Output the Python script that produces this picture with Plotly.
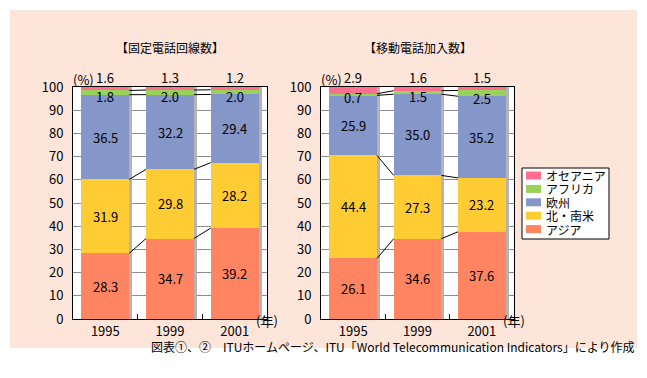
import plotly.graph_objects as go

years = ["1995", "1999", "2001"]
regions = ["アジア", "北・南米", "欧州", "アフリカ", "オセアニア"]
region_colors = ["#FF8562", "#FFCC33", "#8497C8", "#99D25A", "#FF6F8F"]

# 固定電話回線数 (%)
fixed_asia = [28.3, 34.7, 39.2]
fixed_america = [31.9, 29.8, 28.2]
fixed_europe = [36.5, 32.2, 29.4]
fixed_africa = [1.8, 2.0, 2.0]
fixed_oceania = [1.6, 1.3, 1.2]

# 移動電話加入数 (%)
mobile_asia = [26.1, 34.6, 37.6]
mobile_america = [44.4, 27.3, 23.2]
mobile_europe = [25.9, 35.0, 35.2]
mobile_africa = [0.7, 1.5, 2.5]
mobile_oceania = [2.9, 1.6, 1.5]

titles = ["【固定電話回線数】", "【移動電話加入数】"]
caption = "図表①、②　ITUホームページ、ITU「World Telecommunication Indicators」により作成"

FONT = "Noto Sans CJK JP, Noto Sans, sans-serif"
PEACH = "#FEE5DA"
SHADOW = "#B4B4B4"
BAR_W = 0.74
SHADOW_W = 0.046

W, H = 647, 378
def px(x):
    return x / W
def py(y):
    return 1 - y / H

panels = [
    dict(data=[fixed_asia, fixed_america, fixed_europe, fixed_africa, fixed_oceania],
         xdom=[px(73), px(267)], xa="x", ya="y"),
    dict(data=[mobile_asia, mobile_america, mobile_europe, mobile_africa, mobile_oceania],
         xdom=[px(321), px(514)], xa="x2", ya="y2"),
]
ydom = [py(319), py(87)]

fig = go.Figure()
annotations = []
shapes = []
xs = list(range(len(years)))
lab_font = dict(size=13, color="black", family=FONT)

for p_i, p in enumerate(panels):
    data = p["data"]
    cums = []
    run = [0.0] * len(years)
    for series in data:
        cums.append(list(run))
        run = [r + v for r, v in zip(run, series)]
    tops = [[b + v for b, v in zip(cums[k], data[k])] for k in range(len(data))]

    fig.add_trace(go.Bar(x=xs, y=[100] * len(xs), base=[0] * len(xs), width=SHADOW_W,
                         offset=BAR_W / 2, marker=dict(color=SHADOW, line=dict(width=0)),
                         showlegend=False, hoverinfo="skip", xaxis=p["xa"], yaxis=p["ya"]))
    for k, series in enumerate(data):
        fig.add_trace(go.Bar(x=xs, y=series, base=cums[k], width=BAR_W, name=regions[k],
                             marker=dict(color=region_colors[k], line=dict(width=0)),
                             showlegend=False, xaxis=p["xa"], yaxis=p["ya"]))
    for k in range(4):
        lx, ly = [], []
        for i in range(len(xs) - 1):
            lx += [xs[i] + BAR_W / 2, xs[i + 1] - BAR_W / 2, None]
            ly += [tops[k][i], tops[k][i + 1], None]
        fig.add_trace(go.Scatter(x=lx, y=ly, mode="lines", line=dict(color="black", width=1),
                                 showlegend=False, hoverinfo="skip",
                                 xaxis=p["xa"], yaxis=p["ya"]))
    for i in xs:
        for k in range(3):
            annotations.append(dict(x=i, y=cums[k][i] + data[k][i] / 2, xref=p["xa"], yref=p["ya"],
                                    text=f"{data[k][i]:.1f}", showarrow=False, font=lab_font))
        annotations.append(dict(x=i, y=tops[2][i] - 0.9, xref=p["xa"], yref=p["ya"],
                                text=f"{data[3][i]:.1f}", showarrow=False, font=lab_font))
        annotations.append(dict(x=i, y=100, yshift=9, xref=p["xa"], yref=p["ya"],
                                text=f"{data[4][i]:.1f}", showarrow=False, font=lab_font))
    xd = p["xa"] + " domain"
    annotations.append(dict(x=0.5, y=py(37), xref=xd, yref="paper", text=titles[p_i],
                            showarrow=False, font=dict(size=12, color="black", family=FONT)))
    annotations.append(dict(x=0, y=py(68), xref=xd, yref="paper", text="(%)", xshift=-2,
                            showarrow=False, font=lab_font))
    annotations.append(dict(x=1, y=py(332), xref=xd, yref="paper", text="(年)",
                            xanchor="left", xshift=-13, showarrow=False, font=lab_font))

annotations.append(dict(x=px(636), y=py(357), xref="paper", yref="paper", text=caption,
                        xanchor="right", showarrow=False,
                        font=dict(size=12, color="black", family=FONT)))

# legend (drawn as a key box)
shapes.append(dict(type="rect", xref="paper", yref="paper", x0=px(522), x1=px(609),
                   y0=py(239), y1=py(168), fillcolor="white",
                   line=dict(color="black", width=1)))
for j, k in enumerate(range(len(regions) - 1, -1, -1)):
    cy = 175.5 + j * 13.4
    shapes.append(dict(type="rect", xref="paper", yref="paper", x0=px(526), x1=px(541),
                       y0=py(cy + 4), y1=py(cy - 4), fillcolor=region_colors[k],
                       line=dict(width=0)))
    annotations.append(dict(x=px(544), y=py(cy), xref="paper", yref="paper", text=regions[k],
                            xanchor="left", showarrow=False, height=13, valign="middle",
                            font=dict(size=12, color="black", family=FONT)))

for (a, b, c, d) in [(0, W, 348, H), (0, W, 0, 10), (0, 10, 0, H), (637, W, 0, H)]:
    shapes.append(dict(type="rect", xref="paper", yref="paper", x0=px(a), x1=px(b),
                       y0=py(d), y1=py(c), fillcolor="white", line=dict(width=0), layer="below"))

axis_common_x = dict(range=[-0.5, len(years) - 0.5], tickmode="array", tickvals=xs, ticktext=years,
                     showgrid=False, zeroline=False, showline=True, linecolor="black", linewidth=1,
                     mirror=True, ticks="", tickfont=lab_font, automargin=False,
                     minor=dict(tickmode="array", tickvals=[0.5, 1.5], ticks="inside",
                                ticklen=5, tickcolor="black", tickwidth=1, showgrid=False),
                     fixedrange=True)
axis_common_y = dict(range=[0, 100], dtick=10, showgrid=True, gridcolor="#8C8C8C", gridwidth=1,
                     zeroline=False, showline=True, linecolor="black", linewidth=1, mirror=True,
                     ticks="", ticklabelstandoff=6, automargin=False,
                     tickfont=lab_font, fixedrange=True)

fig.update_layout(
    width=W, height=H, margin=dict(l=0, r=0, t=0, b=0, pad=0, autoexpand=False),
    paper_bgcolor=PEACH, plot_bgcolor="white", barmode="overlay", bargap=0,
    font=dict(family=FONT, color="black"), showlegend=False,
    xaxis=dict(domain=panels[0]["xdom"], anchor="y", **axis_common_x),
    yaxis=dict(domain=ydom, anchor="x", **axis_common_y),
    xaxis2=dict(domain=panels[1]["xdom"], anchor="y2", **axis_common_x),
    yaxis2=dict(domain=ydom, anchor="x2", **axis_common_y),
    annotations=annotations,
    shapes=shapes,
    hovermode=False,
)

fig.write_html("out.html", config={"displayModeBar": False},
               post_script="document.body.style.margin='0px';")
